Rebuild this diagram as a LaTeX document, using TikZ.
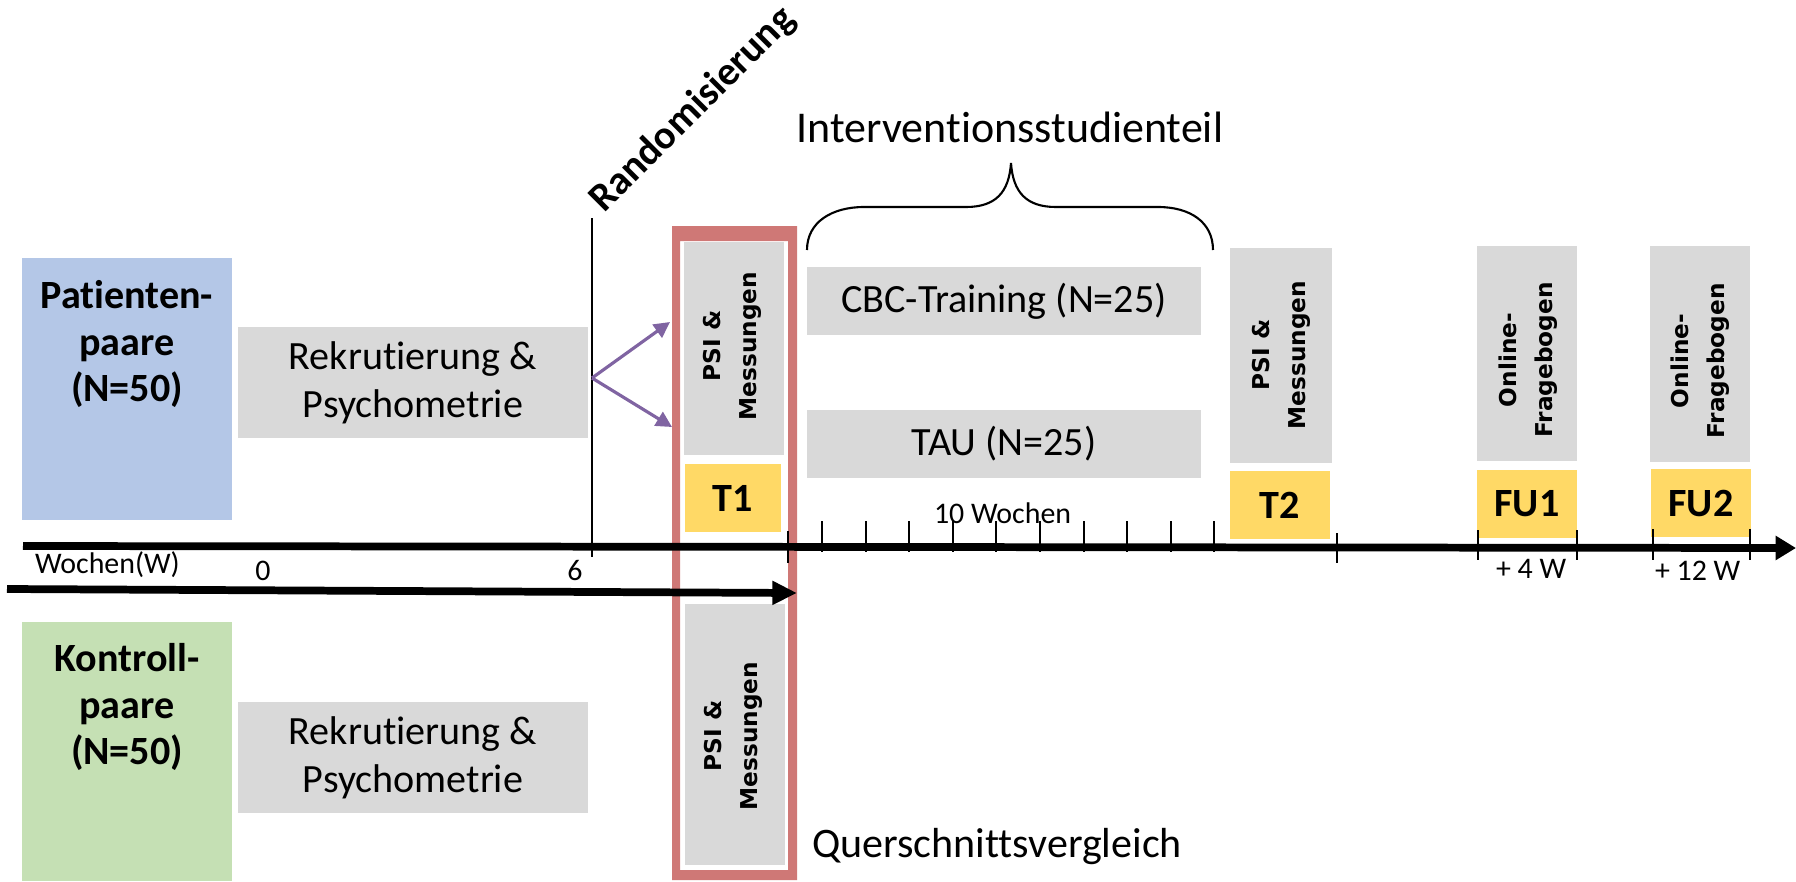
\documentclass[tikz,border=0pt]{standalone}
\usepackage{fontspec}
\setmainfont{Carlito}[Ligatures=NoCommon]
\newfontfamily\vfont{DejaVu Sans}
\usetikzlibrary{arrows.meta}
\definecolor{boxgray}{HTML}{D9D9D9}
\definecolor{bluecol}{HTML}{B4C7E7}
\definecolor{greencol}{HTML}{C5E0B4}
\definecolor{yel}{HTML}{FFD966}
\definecolor{redframe}{HTML}{CF7876}
\definecolor{purp}{HTML}{8064A2}
\begin{document}
\begin{tikzpicture}[x=0.01cm,y=-0.01cm,
  every node/.style={inner sep=0pt, outer sep=0pt},
  cell/.style={draw=none, inner sep=0pt},
  boldtxt/.style={font=\bfseries\fontsize{11.4}{13.2}\selectfont, align=center},
  regtxt/.style={font=\fontsize{11.4}{13.7}\selectfont, align=center},
  smalltxt/.style={font=\fontsize{8.5}{10}\selectfont},
  vtxt/.style={rotate=90, align=center, font=\vfont\bfseries\fontsize{6.6}{10.2}\selectfont},
  thinline/.style={line width=0.6pt, black},
  timeline/.style={line width=2.2pt, black},
  purparrow/.style={line width=0.9pt, purp, -{Triangle[length=4.5pt,width=4.5pt]}}
]
\useasboundingbox (0,0) rectangle (1796,881);

% red frame
\fill[redframe, even odd rule] (672,226) rectangle (797,880) (680,241) rectangle (788,870);

% left group boxes
\node[cell, fill=bluecol, minimum width=2.10cm, minimum height=2.62cm] (pat) at (127,389) {};
\node[boldtxt] (patT) at (127,344) {Patienten-\\paare\\(N=50)};
\node[cell, fill=greencol, minimum width=2.10cm, minimum height=2.59cm] (kon) at (127,751.5) {};
\node[boldtxt] (konT) at (127,707) {Kontroll-\\paare\\(N=50)};

\node[cell, fill=boxgray, minimum width=3.50cm, minimum height=1.11cm, regtxt] (rek1) at (413,382.5) {Rekrutierung \&\\Psychometrie};
\node[cell, fill=boxgray, minimum width=3.50cm, minimum height=1.11cm, regtxt] (rek2) at (413,757.5) {Rekrutierung \&\\Psychometrie};

% T1 column
\node[cell, fill=boxgray, minimum width=1.00cm, minimum height=2.13cm] (psiA) at (734,348.5) {};
\node[vtxt] (psiAT) at (732,346) {PSI \&\\Messungen};
\node[cell, fill=yel, minimum width=0.96cm, minimum height=0.68cm, boldtxt] (t1) at (733,498) {T1};
\node[cell, fill=boxgray, minimum width=1.00cm, minimum height=2.61cm] (psiB) at (735,734.5) {};
\node[vtxt] (psiBT) at (733,736) {PSI \&\\Messungen};

% intervention boxes
\node[cell, fill=boxgray, minimum width=3.94cm, minimum height=0.68cm, regtxt] (cbc) at (1004,301) {CBC-Training (N=25)};
\node[cell, fill=boxgray, minimum width=3.94cm, minimum height=0.68cm, regtxt] (tau) at (1004,444) {TAU (N=25)};

% T2
\node[cell, fill=boxgray, minimum width=1.02cm, minimum height=2.15cm] (psiC) at (1281,355.5) {};
\node[vtxt] (psiCT) at (1281,355) {PSI \&\\Messungen};
\node[cell, fill=yel, minimum width=1.00cm, minimum height=0.68cm, boldtxt] (t2) at (1280,505) {T2};

% FU1
\node[cell, fill=boxgray, minimum width=1.00cm, minimum height=2.15cm] (onA) at (1527,353.5) {};
\node[vtxt] (onAT) at (1528,360) {Online-\\Fragebogen};
\node[cell, fill=yel, minimum width=1.00cm, minimum height=0.68cm, boldtxt] (fu1) at (1527,504) {FU1};

% FU2
\node[cell, fill=boxgray, minimum width=1.00cm, minimum height=2.16cm] (onB) at (1700,354) {};
\node[vtxt] (onBT) at (1700,361) {Online-\\Fragebogen};
\node[cell, fill=yel, minimum width=1.00cm, minimum height=0.68cm, boldtxt] (fu2) at (1701,503) {FU2};

% Randomisierung
\node[rotate=45, font=\bfseries\fontsize{11.4}{13}\selectfont] (rand) at (693,110) {Randomisierung};
\coordinate (rtop) at (592,218);
\coordinate (rbot) at (592,557);
\draw[thinline] (rtop) -- (rbot);
\coordinate (split) at (592,378);
\coordinate (toUp) at (670,322);
\coordinate (toDown) at (672,427);
\draw[purparrow] (split) -- (toUp);
\draw[purparrow] (split) -- (toDown);

% headings
\node[font=\fontsize{12.5}{15}\selectfont, anchor=base] (interv) at (1010,142) {Interventionsstudienteil};
\node[font=\fontsize{11.95}{14}\selectfont, anchor=base west] (quer) at (812,857) {Querschnittsvergleich};

% brace
\draw[line width=0.6pt] (807,250) .. controls (807,222) and (832,207) .. (864,207) -- (966,207)
  .. controls (996,207) and (1009,192) .. (1011,163)
  .. controls (1013,192) and (1026,207) .. (1056,207) -- (1158,207)
  .. controls (1190,207) and (1213,222) .. (1213,250);

% timelines
\coordinate (tlA) at (23,546);
\coordinate (tlB) at (1796,548);
\draw[timeline, -{Triangle[length=5.8pt,width=6.6pt]}] (tlA) -- (tlB);
\coordinate (tlC) at (7,589);
\coordinate (tlD) at (797,593);
\draw[timeline, -{Triangle[length=7pt,width=6.4pt]}] (tlC) -- (tlD);

% ticks
\draw[thinline] (788,531) -- (788,563);
\foreach \k in {0,...,9} {
  \draw[thinline] ({822+43.6*\k},521) -- ({822+43.6*\k},552);
}
\draw[thinline] (1337,533) -- (1337,563);
\draw[thinline] (1478,530) -- (1478,560);
\draw[thinline] (1577,530) -- (1577,560);
\draw[thinline] (1653,529) -- (1653,560);
\draw[thinline] (1750,529) -- (1750,560);

% axis labels
\node[smalltxt, anchor=base west] (woch) at (35,573) {Wochen(W)};
\node[smalltxt, anchor=base] (zero) at (263,580) {0};
\node[smalltxt, anchor=base] (six) at (575,580) {6};
\node[smalltxt, anchor=base west] (tenw) at (934,523) {10 Wochen};
\node[smalltxt, anchor=base west] (fourw) at (1496,578) {+ 4 W};
\node[smalltxt, anchor=base west] (twelvew) at (1655,580) {+ 12 W};
\end{tikzpicture}
\end{document}
